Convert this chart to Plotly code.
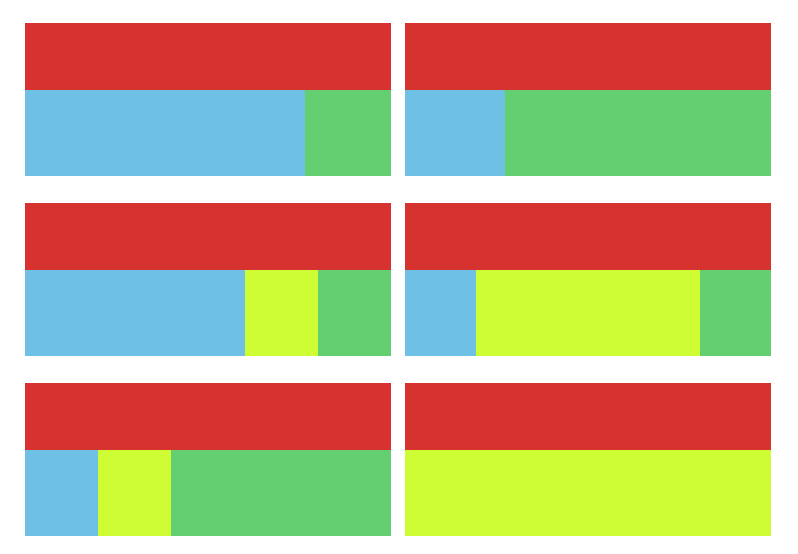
import plotly.graph_objects as go

# six panels, read left-to-right, top-to-bottom
panels = ["A", "B", "C", "D", "E", "F"]
totals = [100, 100, 100, 100, 100, 100]
blue = [76.4, 27.3, 60.1, 19.4, 19.9, 0]
yellow = [0, 0, 19.9, 61.2, 20.0, 100]
green = [23.6, 72.7, 20.0, 19.4, 60.1, 0]

RED = "#d63230"
BLUE = "#6ec0e4"
YELLOW = "#cffd34"
GREEN = "#64cf71"

# page body adds an 8px margin, so the figure sits at (8, 8)
OFF = 8
W, H = 798 - 2 * OFF, 554 - 2 * OFF
col_x = [(25 - OFF, 391 - OFF), (405 - OFF, 771 - OFF)]
row_top = [23 - OFF, 203 - OFF, 383 - OFF]
top_h, bot_h = 67, 86

fig = go.Figure()
layout = {}

for i, name in enumerate(panels):
    r, c = divmod(i, 2)
    x0, x1 = col_x[c]
    y_top = row_top[r]
    xd = [x0 / W, x1 / W]
    # top band (root) and bottom band (children), in paper fractions
    yd_top = [1 - (y_top + top_h) / H, 1 - y_top / H]
    yd_bot = [1 - (y_top + top_h + bot_h) / H, 1 - (y_top + top_h) / H]

    for k, (yd, part) in enumerate([(yd_top, "root"), (yd_bot, "kids")]):
        n = i * 2 + k + 1
        sx = "" if n == 1 else str(n)
        xa, ya = "x" + sx, "y" + sx
        if part == "root":
            fig.add_trace(go.Bar(x=[totals[i]], y=[name], orientation="h",
                                 marker=dict(color=RED, line=dict(width=0)),
                                 xaxis=xa, yaxis=ya, showlegend=False,
                                 hoverinfo="skip"))
        else:
            for vals, col in [(blue, BLUE), (yellow, YELLOW), (green, GREEN)]:
                fig.add_trace(go.Bar(x=[vals[i]], y=[name], orientation="h",
                                     marker=dict(color=col, line=dict(width=0)),
                                     xaxis=xa, yaxis=ya, showlegend=False,
                                     hoverinfo="skip"))
        layout["xaxis" + sx] = dict(domain=xd, range=[0, totals[i]], visible=False,
                                    fixedrange=True, anchor=ya)
        layout["yaxis" + sx] = dict(domain=yd, range=[-0.5, 0.5], visible=False,
                                    fixedrange=True, anchor=xa)

fig.update_layout(
    width=W, height=H,
    margin=dict(l=0, r=0, t=0, b=0),
    barmode="stack", bargap=0,
    paper_bgcolor="white", plot_bgcolor="white",
    **layout
)

fig.write_html("out.html")
